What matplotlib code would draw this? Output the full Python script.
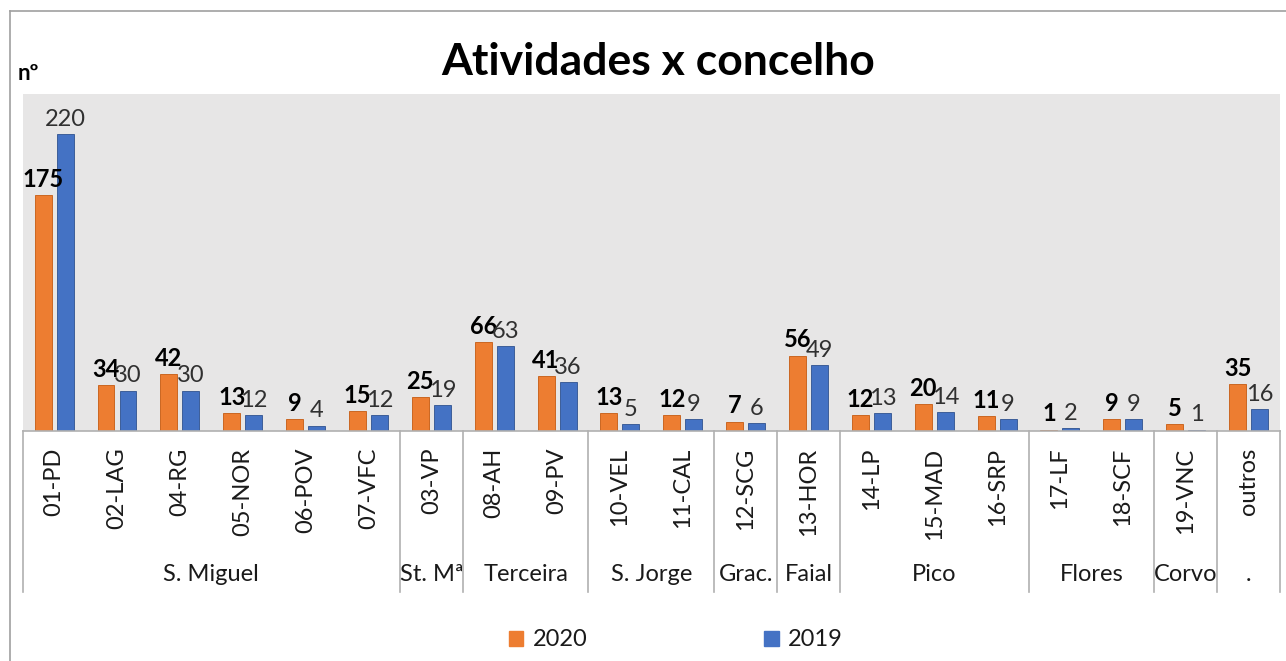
import matplotlib.pyplot as plt
import matplotlib.transforms as mtransforms
from matplotlib.lines import Line2D
from matplotlib.patches import Patch
import numpy as np

plt.rcParams['font.family'] = ['Lato', 'DejaVu Sans']

# data
concelhos = ['01-PD', '02-LAG', '04-RG', '05-NOR', '06-POV', '07-VFC', '03-VP',
             '08-AH', '09-PV', '10-VEL', '11-CAL', '12-SCG', '13-HOR', '14-LP',
             '15-MAD', '16-SRP', '17-LF', '18-SCF', '19-VNC', 'outros']
v2020 = [175, 34, 42, 13, 9, 15, 25, 66, 41, 13, 12, 7, 56, 12, 20, 11, 1, 9, 5, 35]
v2019 = [220, 30, 30, 12, 4, 12, 19, 63, 36, 5, 9, 6, 49, 13, 14, 9, 2, 9, 1, 16]
ilhas = ['S. Miguel', 'St. Mª', 'Terceira', 'S. Jorge', 'Grac.', 'Faial',
         'Pico', 'Flores', 'Corvo', '.']
n_ilha = [6, 1, 2, 2, 1, 1, 3, 2, 1, 1]

W, H = 1286, 661
fig = plt.figure(figsize=(W/100, H/100), dpi=100)
ax = fig.add_axes([22.7/W, 1-431/H, (1280-22.7)/W, 337/H])
ax.set_facecolor('#e7e6e6')

x = np.arange(len(concelhos))
bw = 0.27
ax.bar(x-0.175, v2020, bw, color='#ED7D31', edgecolor='#c55a11', linewidth=0.6, label='2020')
ax.bar(x+0.175, v2019, bw, color='#4472C4', edgecolor='#2f528f', linewidth=0.6, label='2019')

for i in range(len(x)):
    ax.annotate(str(v2020[i]), (x[i]-0.175, v2020[i]), xytext=(0, 3), textcoords='offset points',
                ha='center', va='bottom', fontsize=17, fontweight='bold', color='black')
    ax.annotate(str(v2019[i]), (x[i]+0.175, v2019[i]), xytext=(0, 3), textcoords='offset points',
                ha='center', va='bottom', fontsize=17, color='#303030')

ax.set_xlim(-0.5, len(x)-0.5)
ax.set_ylim(0, 250)
ax.set_yticks([])
ax.set_xticks(x)
ax.set_xticklabels(concelhos, rotation=90, fontsize=17, color='#1a1a1a')
ax.tick_params(axis='x', length=0, pad=12)
for s in ['top', 'right', 'left']:
    ax.spines[s].set_visible(False)
ax.spines['bottom'].set_color('#b0b0b0')
ax.spines['bottom'].set_linewidth(1.2)

# group separators and labels
trans = mtransforms.blended_transform_factory(ax.transData, ax.transAxes)
bounds = np.concatenate([[0], np.cumsum(n_ilha)]) - 0.5
for b in bounds:
    ax.plot([b, b], [0, -0.478], transform=trans, color='#b0b0b0', lw=1.2, clip_on=False)
for k, nome in enumerate(ilhas):
    cx = (bounds[k] + bounds[k+1]) / 2
    ax.text(cx, -0.427, nome, transform=trans, ha='center', va='center', fontsize=17, color='#1a1a1a')

fig.text(658/W, 1-62/H, 'Atividades x concelho', ha='center', va='center',
         fontsize=32, fontweight='bold', color='black')
fig.text(18/W, 1-73/H, 'nº', ha='left', va='center', fontsize=16, fontweight='bold', color='black')

# outer border
fig.add_artist(Line2D([10/W, 10/W], [0, 1-11/H], color='#a0a0a0', lw=1.2))
fig.add_artist(Line2D([10/W, 1], [1-11/H, 1-11/H], color='#a0a0a0', lw=1.2))

handles = [Patch(color='#ED7D31'), Patch(color='#4472C4')]
fig.legend(handles, ['2020', '2019'], loc='center', bbox_to_anchor=(676/W, 1-640/H), ncol=2,
           frameon=False, fontsize=17, handlelength=0.6, handleheight=0.6, handletextpad=0.4,
           columnspacing=7.5, labelcolor='#1a1a1a')

fig.savefig('out.png', dpi=100)
